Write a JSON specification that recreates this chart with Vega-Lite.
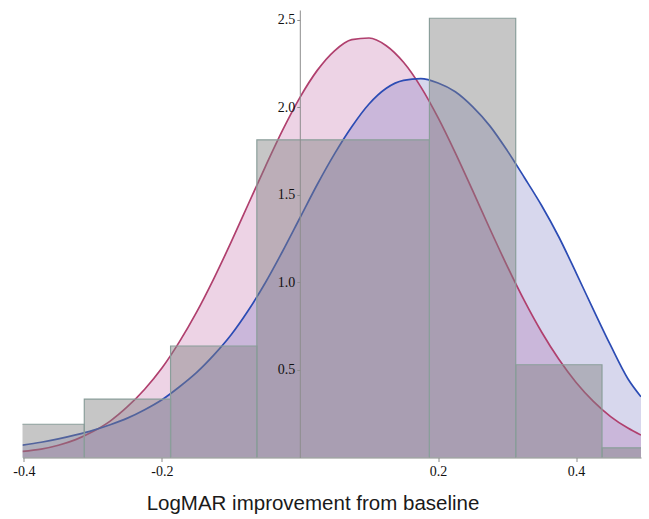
{
  "$schema": "https://vega.github.io/schema/vega-lite/v6.json",
  "width": 618.5,
  "height": 447.5,
  "autosize": {"type": "none"},
  "padding": {"left": 22.5, "top": 10, "right": 8, "bottom": 61.5},
  "background": "white",
  "config": {
    "view": {"stroke": null},
    "axisX": {
      "grid": false,
      "domainColor": "#8c8c8c",
      "tickColor": "#8c8c8c",
      "tickSize": 4,
      "labelFont": "Liberation Serif",
      "labelFontSize": 14,
      "labelColor": "#111111",
      "labelPadding": 3,
      "titleFont": "Liberation Sans",
      "titleFontSize": 20.5,
      "titleFontWeight": "normal",
      "titleColor": "#1a1a1a"
    },
    "axisY": {
      "grid": false,
      "domainColor": "#8c8c8c",
      "tickColor": "#8c8c8c",
      "tickSize": 3,
      "labelFont": "Liberation Serif",
      "labelFontSize": 14,
      "labelColor": "#111111",
      "labelPadding": 2
    }
  },
  "datasets": {
    "bars": [
      {"x0": -0.4375, "x1": -0.3125, "h": 0.19},
      {"x0": -0.3125, "x1": -0.1875, "h": 0.334},
      {"x0": -0.1875, "x1": -0.0625, "h": 0.637},
      {"x0": -0.0625, "x1": 0.1875, "h": 1.815},
      {"x0": 0.1875, "x1": 0.3125, "h": 2.51},
      {"x0": 0.3125, "x1": 0.4375, "h": 0.53},
      {"x0": 0.4375, "x1": 0.5625, "h": 0.055}
    ],
    "pink": [
      {"x": -0.402, "y": 0.035}, {"x": -0.375, "y": 0.048}, {"x": -0.35, "y": 0.07},
      {"x": -0.325, "y": 0.102}, {"x": -0.3, "y": 0.148}, {"x": -0.275, "y": 0.208},
      {"x": -0.25, "y": 0.29}, {"x": -0.225, "y": 0.39}, {"x": -0.2, "y": 0.511},
      {"x": -0.175, "y": 0.659}, {"x": -0.15, "y": 0.829}, {"x": -0.125, "y": 1.021},
      {"x": -0.1, "y": 1.229}, {"x": -0.075, "y": 1.447}, {"x": -0.05, "y": 1.664},
      {"x": -0.025, "y": 1.872}, {"x": 0, "y": 2.058}, {"x": 0.025, "y": 2.212},
      {"x": 0.05, "y": 2.324}, {"x": 0.075, "y": 2.388}, {"x": 0.1, "y": 2.397},
      {"x": 0.125, "y": 2.353}, {"x": 0.15, "y": 2.258}, {"x": 0.175, "y": 2.118},
      {"x": 0.2, "y": 1.942}, {"x": 0.225, "y": 1.741}, {"x": 0.25, "y": 1.526},
      {"x": 0.275, "y": 1.307}, {"x": 0.3, "y": 1.095}, {"x": 0.325, "y": 0.896},
      {"x": 0.35, "y": 0.717}, {"x": 0.375, "y": 0.561}, {"x": 0.4, "y": 0.429},
      {"x": 0.425, "y": 0.321}, {"x": 0.45, "y": 0.234}, {"x": 0.475, "y": 0.168},
      {"x": 0.494, "y": 0.128}
    ],
    "blue": [
      {"x": -0.402, "y": 0.071}, {"x": -0.375, "y": 0.087}, {"x": -0.35, "y": 0.106},
      {"x": -0.325, "y": 0.129}, {"x": -0.3, "y": 0.155}, {"x": -0.275, "y": 0.187},
      {"x": -0.25, "y": 0.225}, {"x": -0.225, "y": 0.273}, {"x": -0.2, "y": 0.33},
      {"x": -0.175, "y": 0.403}, {"x": -0.15, "y": 0.485}, {"x": -0.125, "y": 0.585},
      {"x": -0.1, "y": 0.7}, {"x": -0.075, "y": 0.84}, {"x": -0.05, "y": 1.0},
      {"x": -0.025, "y": 1.18}, {"x": 0, "y": 1.37}, {"x": 0.025, "y": 1.56},
      {"x": 0.05, "y": 1.735}, {"x": 0.075, "y": 1.89}, {"x": 0.1, "y": 2.02},
      {"x": 0.125, "y": 2.11}, {"x": 0.15, "y": 2.155}, {"x": 0.175, "y": 2.165},
      {"x": 0.2, "y": 2.14}, {"x": 0.225, "y": 2.09}, {"x": 0.25, "y": 2.005},
      {"x": 0.275, "y": 1.895}, {"x": 0.3, "y": 1.755}, {"x": 0.325, "y": 1.6},
      {"x": 0.35, "y": 1.44}, {"x": 0.375, "y": 1.26}, {"x": 0.4, "y": 1.055},
      {"x": 0.425, "y": 0.845}, {"x": 0.45, "y": 0.64}, {"x": 0.475, "y": 0.45},
      {"x": 0.494, "y": 0.347}
    ]
  },
  "layer": [
    {
      "data": {"name": "pink"},
      "mark": {"type": "area", "interpolate": "monotone", "fill": "#c060a0", "fillOpacity": 0.28, "clip": true},
      "encoding": {
        "x": {
          "field": "x", "type": "quantitative",
          "scale": {"domain": [-0.402, 0.494], "nice": false, "zero": false},
          "title": "LogMAR improvement from baseline",
          "axis": {
            "values": [-0.4, -0.2, 0.2, 0.4],
            "labelExpr": "replace(format(datum.value, '.1f'), '\u2212', '-')",
            "titleX": 290,
            "titleY": 52,
            "titleAlign": "center",
            "titleBaseline": "alphabetic",
            "zindex": 2
          }
        },
        "y": {
          "field": "y", "type": "quantitative",
          "scale": {"domain": [0, 2.557], "nice": false},
          "title": null,
          "axis": {"values": [0.5, 1, 1.5, 2, 2.5], "format": ".1f", "offset": -277.3, "zindex": 2}
        }
      }
    },
    {
      "data": {"name": "blue"},
      "mark": {"type": "area", "interpolate": "monotone", "fill": "#7070c0", "fillOpacity": 0.28, "clip": true},
      "encoding": {
        "x": {"field": "x", "type": "quantitative"},
        "y": {"field": "y", "type": "quantitative"}
      }
    },
    {
      "data": {"name": "pink"},
      "mark": {"type": "line", "interpolate": "monotone", "stroke": "#b0406e", "strokeWidth": 1.7, "clip": true},
      "encoding": {
        "x": {"field": "x", "type": "quantitative"},
        "y": {"field": "y", "type": "quantitative"}
      }
    },
    {
      "data": {"name": "blue"},
      "mark": {"type": "line", "interpolate": "monotone", "stroke": "#2c4cb4", "strokeWidth": 1.7, "clip": true},
      "encoding": {
        "x": {"field": "x", "type": "quantitative"},
        "y": {"field": "y", "type": "quantitative"}
      }
    },
    {
      "data": {"name": "bars"},
      "mark": {"type": "rect", "fill": "#808080", "fillOpacity": 0.45, "stroke": "#8a9e9a", "strokeWidth": 1.2, "clip": true},
      "encoding": {
        "x": {"field": "x0", "type": "quantitative"},
        "x2": {"field": "x1"},
        "y": {"field": "h", "type": "quantitative"},
        "y2": {"datum": 0}
      }
    }
  ]
}
